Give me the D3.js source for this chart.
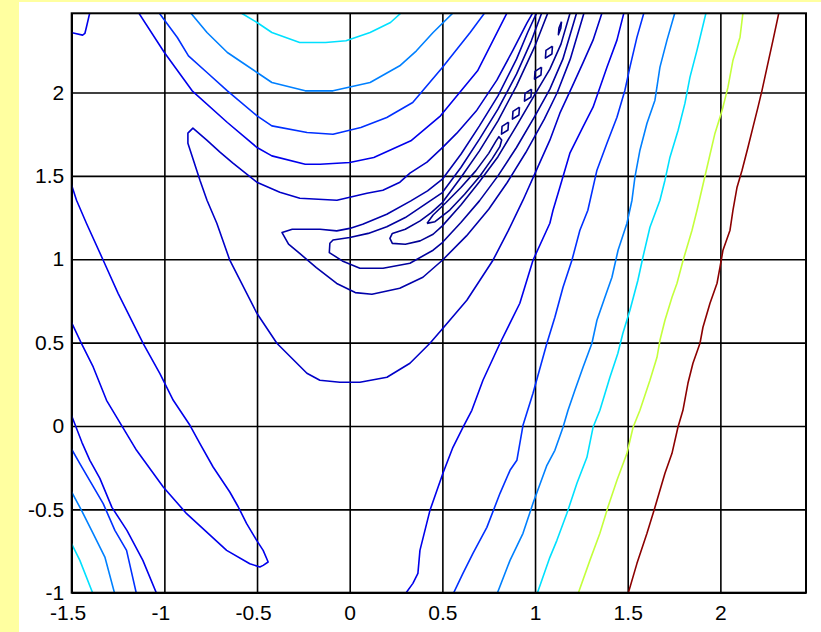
<!DOCTYPE html>
<html>
<head>
<meta charset="utf-8">
<script src="https://cdn.jsdelivr.net/npm/d3@7"></script>
<style>
  html, body { margin: 0; padding: 0; background: #ffffa0; }
  svg { display: block; }
  .tick text { font-family: "Liberation Sans", Arial, sans-serif; font-size: 21px; fill: #000; }
</style>
</head>
<body>
<svg id="chart" width="821" height="632"></svg>
<script>
// Axis ticks
const xTicks = [-1.5, -1, -0.5, 0, 0.5, 1, 1.5, 2];
const yTicks = [-1, -0.5, 0, 0.5, 1, 1.5, 2];

// Contour lines, [x, y] pairs, grouped by level (lowest level first)
// Level 1: valley floor, broken into a long island and small islands
const l1Loop = [[0.417,1.215],[0.45,1.265],[0.52,1.34],[0.60,1.43],[0.68,1.53],[0.75,1.635],[0.79,1.71],[0.805,1.735],[0.82,1.715],[0.81,1.675],[0.77,1.605],[0.70,1.495],[0.62,1.39],[0.54,1.295],[0.46,1.225],[0.417,1.215]];
const l1Islands = [
  [[0.857,1.822],[0.854,1.775],[0.819,1.750],[0.822,1.797],[0.857,1.822]],
  [[0.916,1.912],[0.913,1.865],[0.878,1.840],[0.881,1.887],[0.916,1.912]],
  [[0.981,2.020],[0.978,1.973],[0.943,1.948],[0.946,1.995],[0.981,2.020]],
  [[1.035,2.152],[1.032,2.105],[0.997,2.080],[1.000,2.127],[1.035,2.152]],
  [[1.094,2.278],[1.091,2.231],[1.056,2.206],[1.059,2.253],[1.094,2.278]],
  [[1.143,2.425],[1.139,2.385],[1.126,2.347],[1.129,2.387],[1.143,2.425]]
];
// Level 2
const t2 = [[1.19,2.48],[1.14,2.29],[1.08,2.14],[1.0,1.99],[0.9,1.80],[0.8,1.615],[0.7,1.465],[0.6,1.325],[0.5,1.20],[0.45,1.15],[0.38,1.11],[0.30,1.09],[0.23,1.095],[0.217,1.125],[0.23,1.155],[0.30,1.18],[0.38,1.23],[0.44,1.28],[0.50,1.34],[0.60,1.49],[0.70,1.65],[0.80,1.83],[0.90,2.04],[1.0,2.28],[1.07,2.48]];
// Level 3
const t1 = [[1.225,2.48],[1.15,2.20],[1.08,2.02],[1.0,1.86],[0.9,1.67],[0.8,1.50],[0.7,1.35],[0.6,1.22],[0.5,1.10],[0.45,1.054],[0.325,0.976],[0.18,0.946],[0.055,0.946],[-0.04,0.99],[-0.11,1.04],[-0.107,1.096],[-0.09,1.115],[0.0,1.13],[0.10,1.155],[0.20,1.195],[0.30,1.25],[0.40,1.325],[0.50,1.40],[0.60,1.55],[0.70,1.72],[0.80,1.90],[0.90,2.11],[0.98,2.31],[1.037,2.48]];
// Level 4
const t0 = [[1.265,2.48],[1.19,2.20],[1.12,2.00],[1.05,1.84],[0.95,1.64],[0.85,1.46],[0.75,1.30],[0.63,1.14],[0.50,0.994],[0.395,0.892],[0.27,0.826],[0.12,0.79],[0.03,0.80],[-0.07,0.855],[-0.18,0.95],[-0.27,1.035],[-0.33,1.09],[-0.365,1.16],[-0.31,1.18],[-0.16,1.18],[-0.07,1.17],[0.0,1.185],[0.07,1.21],[0.20,1.27],[0.33,1.35],[0.42,1.41],[0.50,1.48],[0.60,1.63],[0.70,1.80],[0.80,1.98],[0.90,2.20],[0.96,2.36],[1.01,2.48]];
// Level 5
const u1 = [[1.362,2.48],[1.313,2.314],[1.258,2.176],[1.199,2.032],[1.134,1.876],[1.080,1.714],[1.01,1.54],[0.935,1.354],[0.855,1.17],[0.773,0.994],[0.632,0.754],[0.503,0.586],[0.433,0.496],[0.325,0.376],[0.201,0.292],[0.055,0.262],[-0.053,0.262],[-0.161,0.274],[-0.231,0.316],[-0.393,0.496],[-0.501,0.676],[-0.647,0.994],[-0.717,1.216],[-0.770,1.354],[-0.808,1.474],[-0.873,1.696],[-0.873,1.756],[-0.846,1.786],[-0.771,1.714],[-0.700,1.642],[-0.630,1.576],[-0.501,1.462],[-0.377,1.402],[-0.269,1.366],[-0.069,1.354],[0.093,1.396],[0.179,1.414],[0.271,1.462],[0.325,1.516],[0.417,1.582],[0.503,1.672],[0.578,1.756],[0.686,1.894],[0.794,2.074],[0.881,2.254],[0.956,2.416],[0.989,2.48]];
// Level 6
const bTop = [[-1.14,2.48],[-1.00,2.24],[-0.85,2.01],[-0.66,1.82],[-0.50,1.67],[-0.42,1.62],[-0.24,1.57],[-0.16,1.57],[0.00,1.58],[0.13,1.61],[0.33,1.71],[0.49,1.86],[0.69,2.13],[0.85,2.48]];
const bRight = [[1.480,2.48],[1.442,2.314],[1.388,2.152],[1.313,1.912],[1.258,1.792],[1.188,1.636],[1.134,1.432],[1.097,1.294],[1.080,1.216],[0.989,0.994],[0.918,0.736],[0.811,0.496],[0.719,0.274],[0.659,0.094],[0.611,-0.008],[0.557,-0.128],[0.503,-0.284],[0.433,-0.506],[0.379,-0.746],[0.368,-0.884],[0.341,-0.944],[0.298,-1.01]];
const bLeft = [[-1.505,0.075],[-1.445,-0.098],[-1.402,-0.206],[-1.348,-0.314],[-1.283,-0.488],[-1.202,-0.626],[-1.116,-0.806],[-1.04,-1.01]];
const bPocket = [[-1.505,1.46],[-1.474,1.354],[-1.420,1.214],[-1.330,0.994],[-1.249,0.794],[-1.114,0.494],[-1.024,0.314],[-0.952,0.154],[-0.862,0.004],[-0.808,-0.106],[-0.737,-0.246],[-0.647,-0.396],[-0.601,-0.486],[-0.556,-0.586],[-0.502,-0.686],[-0.467,-0.746],[-0.440,-0.816],[-0.467,-0.836],[-0.485,-0.846],[-0.539,-0.826],[-0.664,-0.746],[-0.880,-0.526],[-1.006,-0.366],[-1.150,-0.146],[-1.231,0.004],[-1.312,0.154],[-1.384,0.354],[-1.447,0.494],[-1.505,0.63]];
const bCorner = [[-1.402,2.48],[-1.420,2.394],[-1.429,2.354],[-1.441,2.344],[-1.505,2.36]];
// Level 7
const mbTop = [[-1.03,2.48],[-0.93,2.33],[-0.87,2.22],[-0.77,2.12],[-0.66,2.01],[-0.50,1.86],[-0.42,1.80],[-0.23,1.76],[-0.09,1.75],[0.06,1.79],[0.20,1.85],[0.34,1.94],[0.50,2.15],[0.65,2.36],[0.73,2.48]];
const mbRight = [[1.588,2.48],[1.550,2.332],[1.512,2.152],[1.485,2.014],[1.442,1.852],[1.388,1.696],[1.334,1.534],[1.285,1.294],[1.242,1.174],[1.199,0.994],[1.151,0.832],[1.107,0.652],[1.064,0.496],[0.989,0.196],[0.935,0.004],[0.902,-0.206],[0.865,-0.266],[0.811,-0.404],[0.740,-0.608],[0.665,-0.764],[0.611,-0.884],[0.557,-1.01]];
const mbLeft = [[-1.505,-0.13],[-1.456,-0.226],[-1.393,-0.346],[-1.330,-0.466],[-1.267,-0.626],[-1.204,-0.746],[-1.150,-1.01]];
// Level 8
const lbTop = [[-0.86,2.48],[-0.77,2.36],[-0.66,2.24],[-0.58,2.18],[-0.50,2.12],[-0.42,2.06],[-0.24,2.01],[-0.16,2.01],[-0.09,2.01],[0.11,2.06],[0.27,2.16],[0.36,2.25],[0.45,2.36],[0.56,2.48]];
const lbRight = [[1.755,2.48],[1.712,2.314],[1.674,2.152],[1.647,1.954],[1.604,1.816],[1.566,1.654],[1.539,1.492],[1.523,1.354],[1.496,1.216],[1.448,1.054],[1.415,0.892],[1.377,0.772],[1.334,0.634],[1.307,0.496],[1.259,0.352],[1.215,0.214],[1.178,0.094],[1.151,-0.008],[1.107,-0.146],[1.064,-0.236],[0.989,-0.464],[0.935,-0.644],[0.865,-0.806],[0.794,-1.01]];
const lbLeft = [[-1.505,-0.386],[-1.447,-0.506],[-1.384,-0.646],[-1.321,-0.786],[-1.267,-1.01]];
// Level 9
const cyTop = [[-0.59,2.48],[-0.50,2.42],[-0.42,2.36],[-0.27,2.30],[-0.13,2.30],[-0.02,2.31],[0.11,2.36],[0.22,2.42],[0.28,2.48]];
const cyRight = [[1.923,2.48],[1.874,2.254],[1.836,2.092],[1.809,1.936],[1.772,1.774],[1.728,1.612],[1.701,1.474],[1.674,1.354],[1.620,1.192],[1.582,1.012],[1.555,0.874],[1.512,0.694],[1.474,0.556],[1.447,0.436],[1.404,0.292],[1.350,0.094],[1.313,-0.008],[1.280,-0.188],[1.226,-0.344],[1.172,-0.524],[1.118,-0.686],[1.080,-0.788],[1.010,-1.01]];
const cyLeft = [[-1.505,-0.696],[-1.456,-0.806],[-1.384,-1.01]];
// Level 10
const ygRight = [[2.122,2.48],[2.106,2.332],[2.068,2.194],[2.041,2.032],[2.014,1.912],[1.998,1.852],[1.971,1.756],[1.928,1.552],[1.874,1.294],[1.847,1.174],[1.799,0.994],[1.766,0.856],[1.739,0.772],[1.701,0.634],[1.674,0.514],[1.658,0.412],[1.620,0.274],[1.566,0.094],[1.529,-0.008],[1.496,-0.164],[1.442,-0.326],[1.393,-0.488],[1.350,-0.644],[1.296,-0.806],[1.231,-1.01]];
// Level 11
const redRight = [[2.316,2.48],[2.284,2.314],[2.252,2.152],[2.225,2.014],[2.203,1.912],[2.176,1.792],[2.149,1.672],[2.117,1.534],[2.090,1.432],[2.068,1.294],[2.052,1.174],[2.014,1.054],[1.998,0.952],[1.982,0.856],[1.944,0.736],[1.906,0.592],[1.890,0.496],[1.852,0.376],[1.825,0.256],[1.798,0.094],[1.771,-0.008],[1.739,-0.164],[1.701,-0.284],[1.647,-0.488],[1.604,-0.644],[1.550,-0.824],[1.501,-1.01]];

// Line colour for each level (jet-like ramp)
const levelColor = ["#00008a", "#000094", "#00009e", "#0000aa", "#0000c8", "#0000ec", "#0030ff", "#0080ff", "#00e0ff", "#c4ff3c", "#8c0000"];

const contourLines = [
  ...[l1Loop, ...l1Islands].map(p => ({ level: 0, pts: p })),
  { level: 1, pts: t2 },
  { level: 2, pts: t1 },
  { level: 3, pts: t0 },
  { level: 4, pts: u1 },
  ...[bTop, bRight, bLeft, bPocket, bCorner].map(p => ({ level: 5, pts: p })),
  ...[mbTop, mbRight, mbLeft].map(p => ({ level: 6, pts: p })),
  ...[lbTop, lbRight, lbLeft].map(p => ({ level: 7, pts: p })),
  ...[cyTop, cyRight, cyLeft].map(p => ({ level: 8, pts: p })),
  { level: 9, pts: ygRight },
  { level: 10, pts: redRight }
];

const svg = d3.select("#chart");
const W = 821, H = 632;
const pL = 71.7, pR = 806, pT = 13.3, pB = 592.7;

// White figure panel on the yellow page
svg.append("rect").attr("x", 19).attr("y", 2).attr("width", W - 19).attr("height", H - 2).attr("fill", "#ffffff");

const x = d3.scaleLinear().domain([-1.5, 2.462]).range([pL, pR]);
const y = d3.scaleLinear().domain([-1, 2.475]).range([pB, pT]);

svg.append("defs").append("clipPath").attr("id", "plotClip")
  .append("rect").attr("x", pL).attr("y", pT).attr("width", pR - pL).attr("height", pB - pT);

// Grid lines and tick labels
const fmt = d => String(d);
const xAxis = svg.append("g").attr("transform", `translate(0,${pB})`)
  .call(d3.axisBottom(x).tickValues(xTicks).tickFormat(fmt).tickSizeInner(-(pB - pT)).tickSizeOuter(0).tickPadding(12.4));
const yAxis = svg.append("g").attr("transform", `translate(${pL},0)`)
  .call(d3.axisLeft(y).tickValues(yTicks).tickFormat(fmt).tickSizeInner(-(pR - pL)).tickSizeOuter(0).tickPadding(7.5));
[xAxis, yAxis].forEach(g => {
  g.attr("font-family", null).attr("font-size", null);
  g.select(".domain").remove();
  g.selectAll(".tick line").attr("stroke", "#000").attr("stroke-width", 1.6);
});
xAxis.selectAll(".tick text").attr("dx", d => d < 0 ? -4 : 0);

// Contour lines
const line = d3.line().x(d => x(d[0])).y(d => y(d[1]));
svg.append("g").attr("clip-path", "url(#plotClip)")
  .selectAll("path").data(contourLines).join("path")
  .attr("d", d => line(d.pts))
  .attr("fill", "none")
  .attr("stroke", d => levelColor[d.level])
  .attr("stroke-width", 1.6)
  .attr("stroke-linejoin", "round");

// Axes box
svg.append("rect").attr("x", pL).attr("y", pT).attr("width", pR - pL).attr("height", pB - pT)
  .attr("fill", "none").attr("stroke", "#000").attr("stroke-width", 2);
</script>
</body>
</html>
